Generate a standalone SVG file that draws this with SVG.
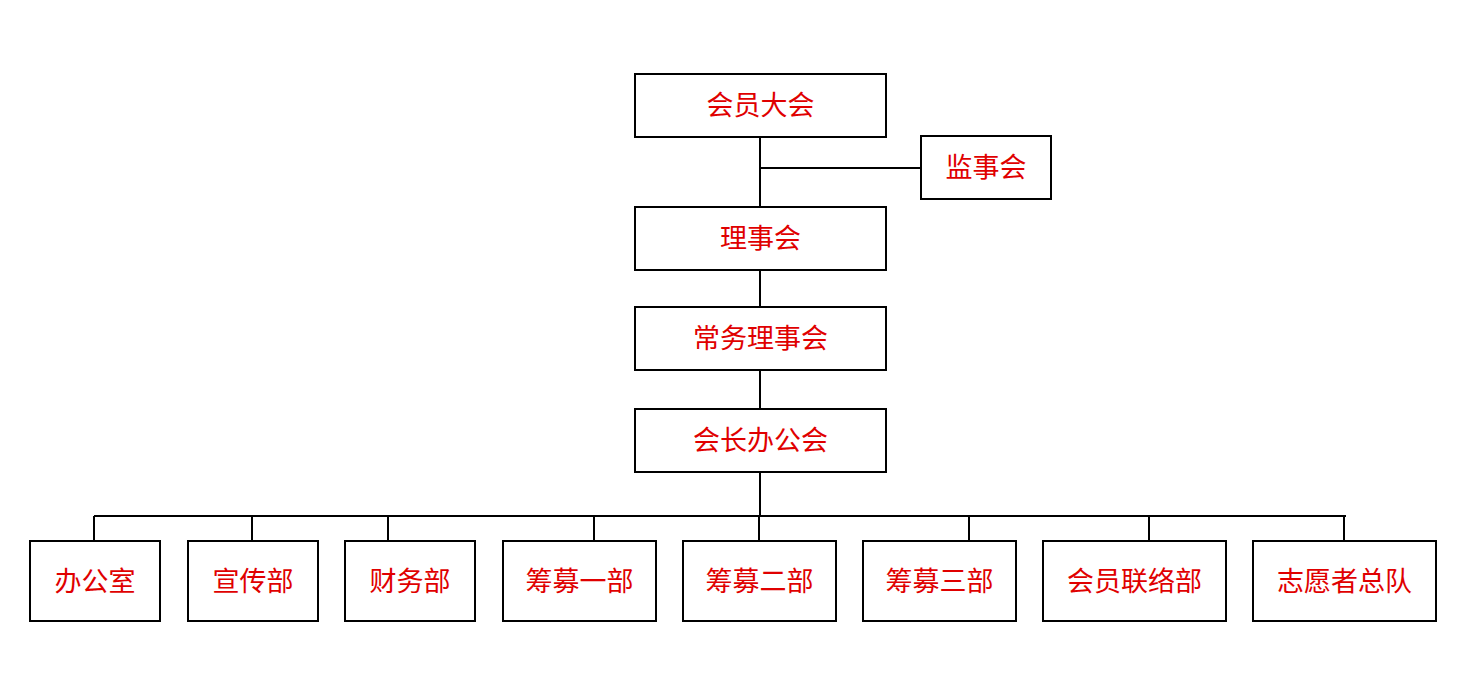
<svg xmlns="http://www.w3.org/2000/svg" width="1469" height="678" viewBox="0 0 1469 678">
<style>
.box{fill:#fff;stroke:#000;stroke-width:2}
.lbl{fill:#e00000;font-family:"Noto Sans CJK SC","Noto Sans",sans-serif;font-size:27px;text-anchor:middle;dominant-baseline:central}
.ln{stroke:#000;stroke-width:2;fill:none}
</style>
<rect width="1469" height="678" fill="#fff"/>
<g id="connectors">
<path class="ln" d="M760 137V207M760 168H921M760 270V307M760 370V409M760 472V516M94 516H1346"/>
<path class="ln" d="M94 516V541M252 516V541M388 516V541M594 516V541M759 516V541M969 516V541M1149 516V541M1344 516V541"/>
</g>
<g id="n1"><rect class="box" x="635" y="74" width="251" height="63"/><text class="lbl" x="760.5" y="103">会员大会</text></g>
<g id="n2"><rect class="box" x="921" y="136" width="130" height="63"/><text class="lbl" x="986" y="165">监事会</text></g>
<g id="n3"><rect class="box" x="635" y="207" width="251" height="63"/><text class="lbl" x="760.5" y="236">理事会</text></g>
<g id="n4"><rect class="box" x="635" y="307" width="251" height="63"/><text class="lbl" x="760.5" y="336">常务理事会</text></g>
<g id="n5"><rect class="box" x="635" y="409" width="251" height="63"/><text class="lbl" x="760.5" y="438">会长办公会</text></g>
<g id="b1"><rect class="box" x="30" y="541" width="130" height="80"/><text class="lbl" x="95" y="579">办公室</text></g>
<g id="b2"><rect class="box" x="188" y="541" width="130" height="80"/><text class="lbl" x="253" y="579">宣传部</text></g>
<g id="b3"><rect class="box" x="345" y="541" width="130" height="80"/><text class="lbl" x="410" y="579">财务部</text></g>
<g id="b4"><rect class="box" x="503" y="541" width="153" height="80"/><text class="lbl" x="579.5" y="579">筹募一部</text></g>
<g id="b5"><rect class="box" x="683" y="541" width="153" height="80"/><text class="lbl" x="759.5" y="579">筹募二部</text></g>
<g id="b6"><rect class="box" x="863" y="541" width="153" height="80"/><text class="lbl" x="939.5" y="579">筹募三部</text></g>
<g id="b7"><rect class="box" x="1043" y="541" width="183" height="80"/><text class="lbl" x="1134.5" y="579">会员联络部</text></g>
<g id="b8"><rect class="box" x="1253" y="541" width="183" height="80"/><text class="lbl" x="1344.5" y="579">志愿者总队</text></g>
</svg>
